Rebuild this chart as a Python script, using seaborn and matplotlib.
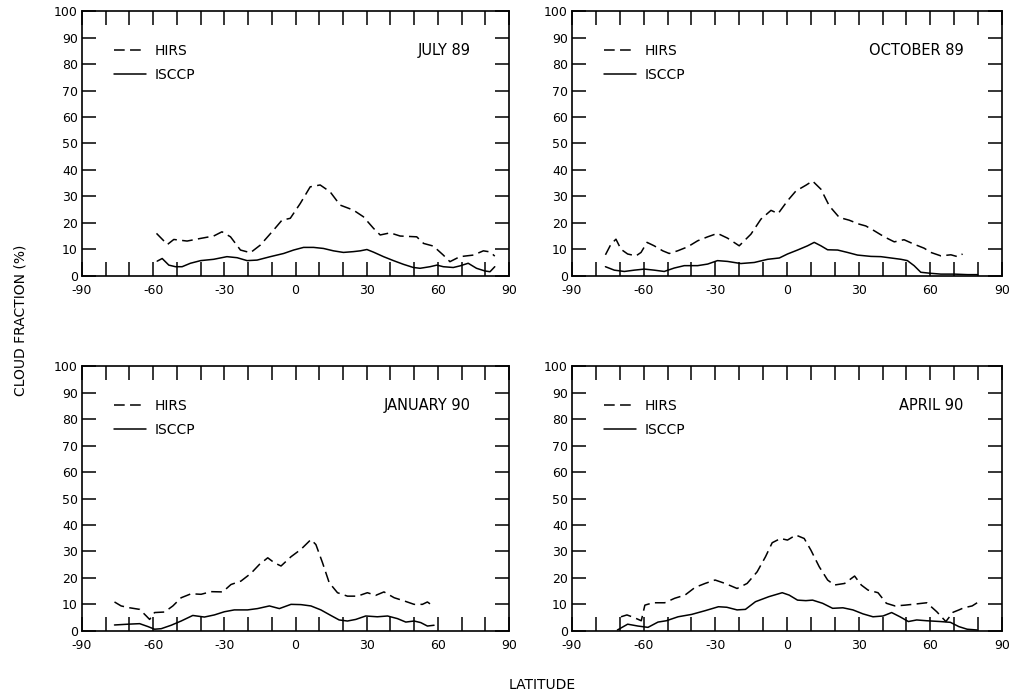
import matplotlib
matplotlib.use("Agg")
import matplotlib.pyplot as plt
import seaborn as sns
import pandas as pd

# Zonal mean cloud fraction (%) vs latitude, HIRS and ISCCP, four seasons
jul89_hirs_lat = [-58.6, -54, -51.3, -45.7, -40, -34.5, -31, -27.4, -23.2, -19,
                  -14.8, -9.2, -5.7, -2.2, 2, 6.2, 10.4, 14.6, 18.8, 24.4,
                  28.6, 32.9, 35.7, 39.9, 44.1, 51.1, 54, 58.1, 62.3, 65.1,
                  69.3, 75, 79.2, 82, 84]
jul89_hirs = [16, 11.8, 13.7, 13.1, 14.1, 15, 16.6, 14.7, 9.7, 8.7,
              11.6, 17.3, 21, 21.7, 27.3, 33.6, 34.3, 31.7, 26.7, 24.8,
              22.3, 17.9, 15.4, 16.2, 15, 14.7, 12.2, 11.2, 7.8, 5.3,
              7.2, 7.8, 9.4, 9, 7.4]
jul89_isccp_lat = [-58.3, -56.2, -53.4, -50.6, -47.8, -44.3, -40, -34.5, -28.9, -24.6,
                   -20.4, -16.2, -10.6, -5, -0.8, 3.4, 7.6, 11.8, 16, 20.2,
                   24.4, 27.3, 30.1, 32.9, 37.1, 41.3, 45.5, 49.7, 52.5, 56.7,
                   59.6, 62.3, 66.5, 69.3, 72.8, 76.3, 79.8, 82, 84]
jul89_isccp = [5.5, 6.5, 4, 3.4, 3.4, 4.7, 5.7, 6.2, 7.2, 6.8,
               5.7, 5.9, 7.2, 8.4, 9.7, 10.7, 10.7, 10.3, 9.4, 8.8,
               9.1, 9.4, 9.9, 8.9, 7.2, 5.7, 4.3, 3.1, 2.8, 3.4,
               4, 3.4, 3.1, 3.7, 4.7, 2.8, 1.8, 1.5, 3.4]

oct89_hirs_lat = [-76, -73.7, -71.6, -69.5, -66.7, -63.2, -61.1, -58.6, -55.6, -52,
                  -49.3, -45.8, -41.6, -37.4, -33.2, -29.1, -24.9, -20, -15.1, -10.9,
                  -6.7, -3.7, 0.2, 3.7, 7.9, 10.7, 14.2, 17.7, 21.9, 26,
                  30.2, 33, 36.5, 40.7, 44.9, 49, 53.2, 57.4, 60.2, 64.4,
                  68.6, 71.4, 73.5]
oct89_hirs = [7.9, 11.9, 13.8, 10, 8.2, 7.5, 8.8, 12.6, 11.3, 9.4,
              8.4, 9.4, 10.9, 13.2, 14.7, 16, 14.2, 11.3, 15.7, 21.4,
              24.7, 23.5, 28.3, 32, 34.2, 35.8, 32.7, 26.4, 22, 21,
              19.5, 18.8, 17, 14.7, 12.8, 13.6, 11.9, 10.4, 8.8, 7.5,
              7.9, 7.2, 8.2]
oct89_isccp_lat = [-76, -72.3, -68.1, -63.9, -59.7, -55.6, -51.4, -47.2, -43, -37.4,
                   -33.2, -29.1, -24.9, -19.3, -13.7, -8.1, -3.2, 0.2, 4.4, 8.6,
                   11.4, 14.2, 17, 21.2, 25.3, 29.5, 35.1, 39.3, 43.5, 47.7,
                   50.4, 53.2, 56, 60.2, 64.4, 70, 75.6, 79.8]
oct89_isccp = [3.4, 2.1, 1.6, 2.1, 2.5, 2.1, 1.6, 2.9, 3.8, 3.8,
               4.4, 5.7, 5.4, 4.6, 5, 6.2, 6.7, 8.2, 9.7, 11.3,
               12.6, 11.3, 9.8, 9.7, 8.8, 7.8, 7.3, 7.2, 6.7, 6.2,
               5.7, 3.8, 1.3, 0.9, 0.6, 0.6, 0.4, 0.4]

jan90_hirs_lat = [-76.3, -73.5, -69.9, -65.7, -62.9, -61.5, -59.4, -55.2, -51.7, -48.2,
                  -44, -39.8, -35.6, -30.7, -27.2, -23, -18.8, -15.2, -11.7, -8.9,
                  -6.1, -1.9, 2.3, 6.5, 8.6, 11.4, 14.2, 17.7, 21.9, 26.1,
                  30.3, 33.8, 37.3, 41.6, 45.8, 50, 53.5, 55.6, 58.4]
jan90_hirs = [10.9, 9.4, 8.7, 8.1, 5.6, 4.3, 6.9, 7.1, 9.4, 12.5,
              14, 13.8, 14.8, 14.7, 17.5, 18.8, 21.7, 25.1, 27.6, 25.7,
              24.5, 28, 30.8, 34.5, 32.6, 25.7, 18.2, 14.4, 13.1, 13.1,
              14.4, 13.4, 14.7, 12.5, 11.3, 10, 10, 10.9, 9.1]
jan90_isccp_lat = [-76.3, -70.6, -65.7, -62.2, -59.4, -56.6, -52.4, -48.2, -43.3, -38.4,
                   -34.2, -30, -25.8, -20.2, -16, -11, -6.8, -1.9, 2.3, 6.5,
                   10.7, 14.9, 18.4, 21.9, 25.4, 29.6, 34.5, 38.8, 43, 46.5,
                   50, 52.8, 55.6, 58.4]
jan90_isccp = [2.2, 2.5, 2.7, 1.6, 0.6, 0.8, 2.1, 3.7, 5.8, 5.2,
               6, 7.2, 7.9, 7.9, 8.4, 9.4, 8.4, 10, 9.9, 9.4,
               7.9, 5.8, 4.1, 3.7, 4.3, 5.6, 5.3, 5.6, 4.6, 3.3,
               3.7, 3.1, 1.8, 2.1]

apr90_hirs_lat = [-69.5, -67, -64, -61, -59.5, -56.1, -51.2, -47, -42.7, -38.5,
                  -34.3, -30.1, -25.9, -20.9, -16.7, -12.5, -9, -6.2, -2.7, 0.2,
                  3.7, 7.2, 10, 13.5, 17, 19.8, 24.1, 28.3, 31.1, 33.9,
                  38.1, 41.6, 45.2, 49.4, 53.6, 58.5, 62.7, 66.5, 69.5, 72,
                  74, 77.5, 79.6, 81.5]
apr90_hirs = [5.3, 6, 5, 3.8, 9.7, 10.6, 10.6, 12.3, 13.5, 16.4,
              17.9, 19.2, 17.9, 16, 17.9, 22.3, 28, 33.3, 34.9, 34.3,
              36.2, 34.9, 30.5, 24.2, 19.2, 17.3, 17.9, 20.7, 17.3, 15.4,
              14.4, 10.4, 9.4, 9.7, 10.1, 10.6, 7.2, 3.5, 7, 7.9,
              8.7, 9.4, 10.6, 10.8]
apr90_isccp_lat = [-71, -66.7, -62.4, -58.2, -54, -50.5, -45.6, -39.9, -34.3, -28.7,
                   -25.2, -20.9, -17.4, -13.2, -7.6, -2, 0.9, 4.4, 7.9, 10.7,
                   14.9, 19.1, 23.4, 27.6, 31.8, 36, 40.2, 43.8, 47.3, 50.8,
                   54.3, 58.5, 64.2, 68.4, 71.9, 75.4, 79.6]
apr90_isccp = [0.3, 2.5, 1.8, 1.3, 3.3, 3.8, 5.3, 6.2, 7.6, 9.1,
               8.9, 7.9, 8.1, 11, 12.9, 14.4, 13.5, 11.6, 11.4, 11.6,
               10.4, 8.5, 8.7, 7.9, 6.4, 5.3, 5.6, 6.9, 5.3, 3.5,
               4.1, 3.8, 3.5, 3.2, 1.6, 0.6, 0.3]

panel_titles = ["JULY 89", "OCTOBER 89", "JANUARY 90", "APRIL 90"]
series_names = ["HIRS", "ISCCP"]
x_ticks = list(range(-90, 91, 10))
x_labels = [str(v) if v % 30 == 0 else "" for v in x_ticks]
y_ticks = list(range(0, 101, 10))

panels = [
    (jul89_hirs_lat, jul89_hirs, jul89_isccp_lat, jul89_isccp),
    (oct89_hirs_lat, oct89_hirs, oct89_isccp_lat, oct89_isccp),
    (jan90_hirs_lat, jan90_hirs, jan90_isccp_lat, jan90_isccp),
    (apr90_hirs_lat, apr90_hirs, apr90_isccp_lat, apr90_isccp),
]

sns.set_style("ticks")
plt.rcParams["font.family"] = ["DejaVu Sans"]
plt.rcParams["axes.linewidth"] = 1.2
plt.rcParams["axes.unicode_minus"] = False
plt.rcParams["text.color"] = "black"

W, H = 1014, 697
fig = plt.figure(figsize=(W / 100, H / 100), dpi=100)

# axes boxes in pixels: (left, top-of-plot, width, height)
boxes = [(82, 11.2, 427, 264.5), (572, 11.2, 430, 264.5),
         (82, 366.3, 427, 264.5), (572, 366.3, 430, 264.5)]

for (hl, hv, il, iv), title, (px, py, pw, ph) in zip(panels, panel_titles, boxes):
    ax = fig.add_axes([px / W, 1 - (py + ph) / H, pw / W, ph / H])
    df = pd.concat([
        pd.DataFrame({"lat": hl, "frac": hv, "series": series_names[0]}),
        pd.DataFrame({"lat": il, "frac": iv, "series": series_names[1]}),
    ], ignore_index=True)
    sns.lineplot(data=df, x="lat", y="frac", style="series",
                 dashes={"HIRS": (7, 3.5), "ISCCP": ""},
                 color="black", linewidth=1.1, estimator=None, sort=False,
                 legend=False, ax=ax)

    ax.set_xlim(-90, 90)
    ax.set_ylim(0, 100)
    ax.set_xticks(x_ticks)
    ax.set_xticklabels(x_labels)
    ax.set_yticks(y_ticks)
    ax.set_xlabel("")
    ax.set_ylabel("")
    ax.tick_params(axis="both", direction="in", length=10, width=1.1,
                   top=True, right=True, labeltop=False, labelright=False,
                   labelsize=9, colors="black")
    ax.tick_params(axis="x", pad=6)
    ax.tick_params(axis="y", pad=3)
    for s in ax.spines.values():
        s.set_color("black")
        s.set_linewidth(1.2)

    ax.legend(ax.lines[:2], series_names, loc="upper left",
              bbox_to_anchor=(0.075, 0.877), frameon=False, fontsize=10,
              handlelength=2.3, handletextpad=0.6, labelspacing=0.75,
              borderaxespad=0, borderpad=0, labelcolor="black")
    ax.text(0.91, 0.853, title, transform=ax.transAxes, ha="right",
            va="center", fontsize=10.5, color="black")

fig.text(0.02, 0.54, "CLOUD FRACTION (%)", rotation=90, ha="center",
         va="center", fontsize=10, color="black")
fig.text(0.535, 0.017, "LATITUDE", ha="center", va="center", fontsize=10,
         color="black")

fig.savefig("out.png", dpi=100, facecolor="white")
